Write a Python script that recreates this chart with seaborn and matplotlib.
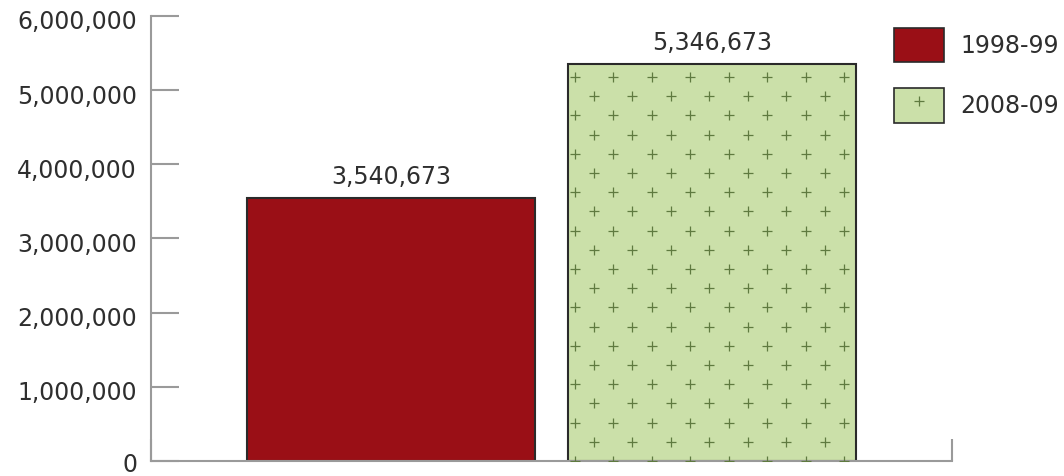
import numpy as np
import pandas as pd
import matplotlib
matplotlib.use("Agg")
import matplotlib.pyplot as plt
import seaborn as sns
from matplotlib.patches import Patch
from matplotlib.lines import Line2D
from matplotlib.transforms import ScaledTranslation

# Data
periods = ["1998-99", "2008-09"]
values = [3540673, 5346673]
bar_colors = ["#9a0f16", "#cbe0a9"]
y_ticks = [0, 1000000, 2000000, 3000000, 4000000, 5000000, 6000000]

df = pd.DataFrame({"period": periods, "value": values})

sns.set_theme(style="white")
plt.rcParams["font.family"] = ["DejaVu Sans"]

text_color = "#2e2e2e"
axis_color = "#9a9a9a"
edge_color = "#2a2a2a"
plus_color = "#5f7a40"

fig = plt.figure(figsize=(10.64, 4.76), dpi=100)
ax = fig.add_axes([151 / 1064, 15 / 476, 801 / 1064, 445 / 476])

sns.barplot(data=df, x="period", y="value", hue="period",
            palette=bar_colors, width=0.9, legend=False,
            edgecolor=edge_color, linewidth=1.5, saturation=1, ax=ax)

ax.set_xlim(-0.75, 1.75)
ax.set_ylim(0, 6000000)
ax.set_xlabel("")
ax.set_ylabel("")

# axes styling
for side in ["top", "right"]:
    ax.spines[side].set_visible(False)
for side in ["left", "bottom"]:
    ax.spines[side].set_color(axis_color)
    ax.spines[side].set_linewidth(1.5)

ax.set_yticks(y_ticks)
ax.set_yticklabels([f"{v:,}" for v in y_ticks])
ax.tick_params(axis="y", left=True, direction="in", length=20, width=1.5,
               color=axis_color, pad=10, labelsize=17, labelcolor=text_color)
ax.set_xticks([-0.75, 1.75])
ax.set_xticklabels(["", ""])
ax.tick_params(axis="x", bottom=True, direction="in", length=16, width=1.5,
               color=axis_color)
ax.grid(False)

# nudge the tick labels down a little (the lowest one stays inside the figure)
for lbl, v in zip(ax.get_yticklabels(), y_ticks):
    dy = -1 if v == 0 else -4
    lbl.set_transform(lbl.get_transform()
                      + ScaledTranslation(0, dy / 100, fig.dpi_scale_trans))

# value labels
for bar, v in zip(ax.patches, values):
    ax.annotate(f"{v:,}", (bar.get_x() + bar.get_width() / 2, bar.get_height()),
                xytext=(0, 7), textcoords="offset points", ha="center", va="bottom",
                fontsize=17, color=text_color)

# small "+" pattern on the second bar
green_bar = ax.patches[1]
bb = green_bar.get_window_extent()
pts = []
j = 0
while bb.y0 + 19.2 * j <= bb.y1 + 5:
    y = bb.y0 + 19.2 * j
    x = bb.x0 + (7 if j % 2 == 0 else 26.25)
    while x <= bb.x1 + 5:
        pts.append((x, y))
        x += 38.5
    j += 1
pts = ax.transData.inverted().transform(np.array(pts))
sc = ax.scatter(pts[:, 0], pts[:, 1], marker="+", s=42, linewidths=0.9,
                color=plus_color, zorder=3)
sc.set_clip_path(green_bar)

# legend
handles = [
    Patch(facecolor=bar_colors[0], edgecolor=edge_color, linewidth=1.2),
    (Patch(facecolor=bar_colors[1], edgecolor=edge_color, linewidth=1.2),
     Line2D([], [], marker="+", linestyle="none", color=plus_color,
            markersize=6.5, markeredgewidth=0.9)),
]
fig.legend(handles, periods, loc="upper left",
           bbox_to_anchor=(894 / 1064, 1 - 28 / 476), bbox_transform=fig.transFigure,
           frameon=False, borderpad=0, borderaxespad=0, fontsize=17,
           handlelength=2.12, handleheight=1.86, handletextpad=0.68,
           labelspacing=1.1, labelcolor=text_color)

fig.savefig("out.png", dpi=100)
